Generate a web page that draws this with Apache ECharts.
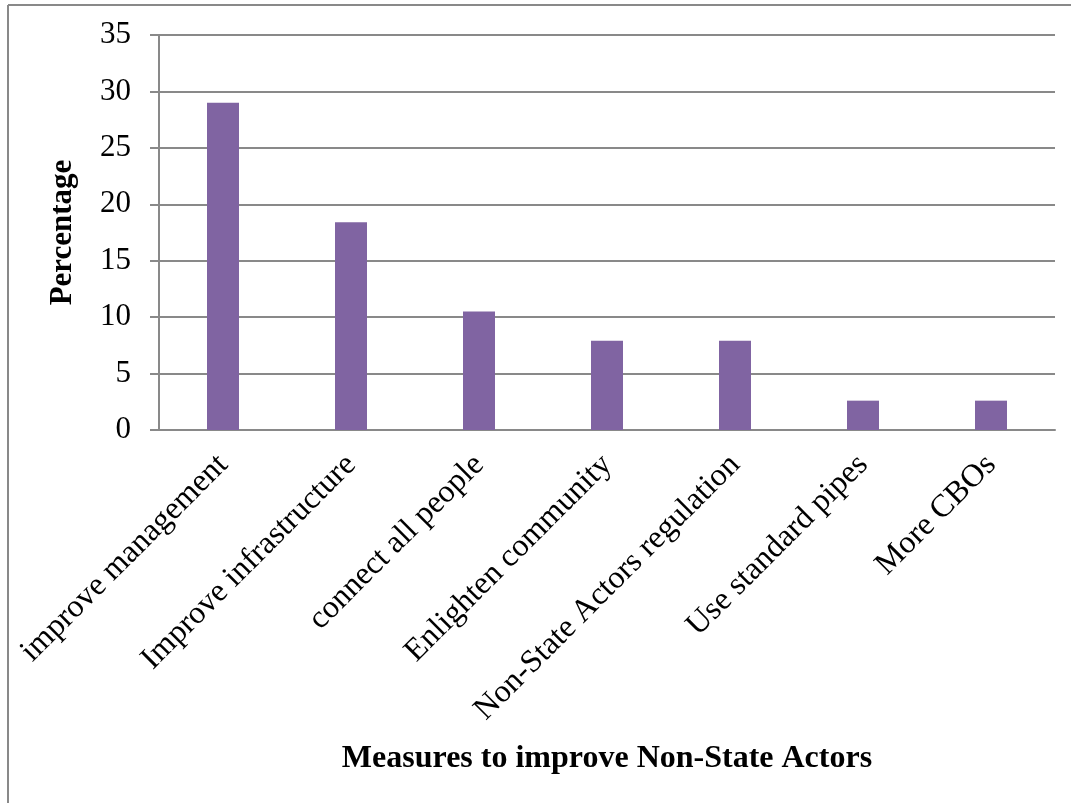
<!DOCTYPE html>
<html>
<head>
<meta charset="utf-8">
<script src="https://cdn.jsdelivr.net/npm/echarts@6/dist/echarts.min.js"></script>
<style>
  html, body { margin: 0; padding: 0; background: #ffffff; }
  #chart { width: 1071px; height: 803px; }
</style>
</head>
<body>
<div id="chart"></div>
<script>
// Survey responses: measures to improve Non-State Actors (percent of respondents)
const categories = [
  'improve management',
  'Improve infrastructure',
  'connect all people',
  'Enlighten community',
  'Non-State Actors regulation',
  'Use standard pipes',
  'More CBOs'
];
const percentages = [29, 18.4, 10.5, 7.9, 7.9, 2.6, 2.6];
const yTicks = { min: 0, max: 35, interval: 5 };

const serif = '"Liberation Serif", "Times New Roman", serif';
const gridGray = '#898989';

const chart = echarts.init(document.getElementById('chart'), null, { renderer: 'canvas' });

chart.setOption({
  backgroundColor: '#ffffff',
  animation: false,
  grid: { left: 159, right: 16, top: 35, bottom: 373, containLabel: false },
  xAxis: {
    type: 'category',
    data: categories,
    name: 'Measures to improve Non-State Actors',
    nameLocation: 'middle',
    nameGap: 313,
    nameTextStyle: { fontFamily: serif, fontWeight: 'bold', fontSize: 32, color: '#000' },
    axisLine: { show: true, lineStyle: { color: gridGray, width: 2 } },
    axisTick: { show: false },
    axisLabel: {
      interval: 0,
      rotate: 45,
      margin: 30,
      fontFamily: serif,
      fontSize: 32,
      color: '#000'
    },
    splitLine: { show: false }
  },
  yAxis: {
    type: 'value',
    min: yTicks.min,
    max: yTicks.max,
    interval: yTicks.interval,
    name: 'Percentage',
    nameLocation: 'middle',
    nameRotate: 90,
    nameGap: 81,
    nameTextStyle: { fontFamily: serif, fontWeight: 'bold', fontSize: 31, color: '#000' },
    axisLine: { show: true, lineStyle: { color: gridGray, width: 2 } },
    axisTick: { show: true, inside: false, length: 9, lineStyle: { color: gridGray, width: 2 } },
    axisLabel: { margin: 28, fontFamily: serif, fontSize: 31, color: '#000' },
    splitLine: { show: true, lineStyle: { color: gridGray, width: 2 } }
  },
  series: [{
    type: 'bar',
    data: percentages,
    barWidth: '25%',
    itemStyle: { color: '#8064A2' }
  }],
  graphic: [
    // frame around the chart area (top and left edges)
    { type: 'line', shape: { x1: 8, y1: 5, x2: 1071, y2: 5 }, style: { stroke: gridGray, lineWidth: 2 } },
    { type: 'line', shape: { x1: 8, y1: 5, x2: 8, y2: 803 }, style: { stroke: gridGray, lineWidth: 2 } }
  ]
});
</script>
</body>
</html>
